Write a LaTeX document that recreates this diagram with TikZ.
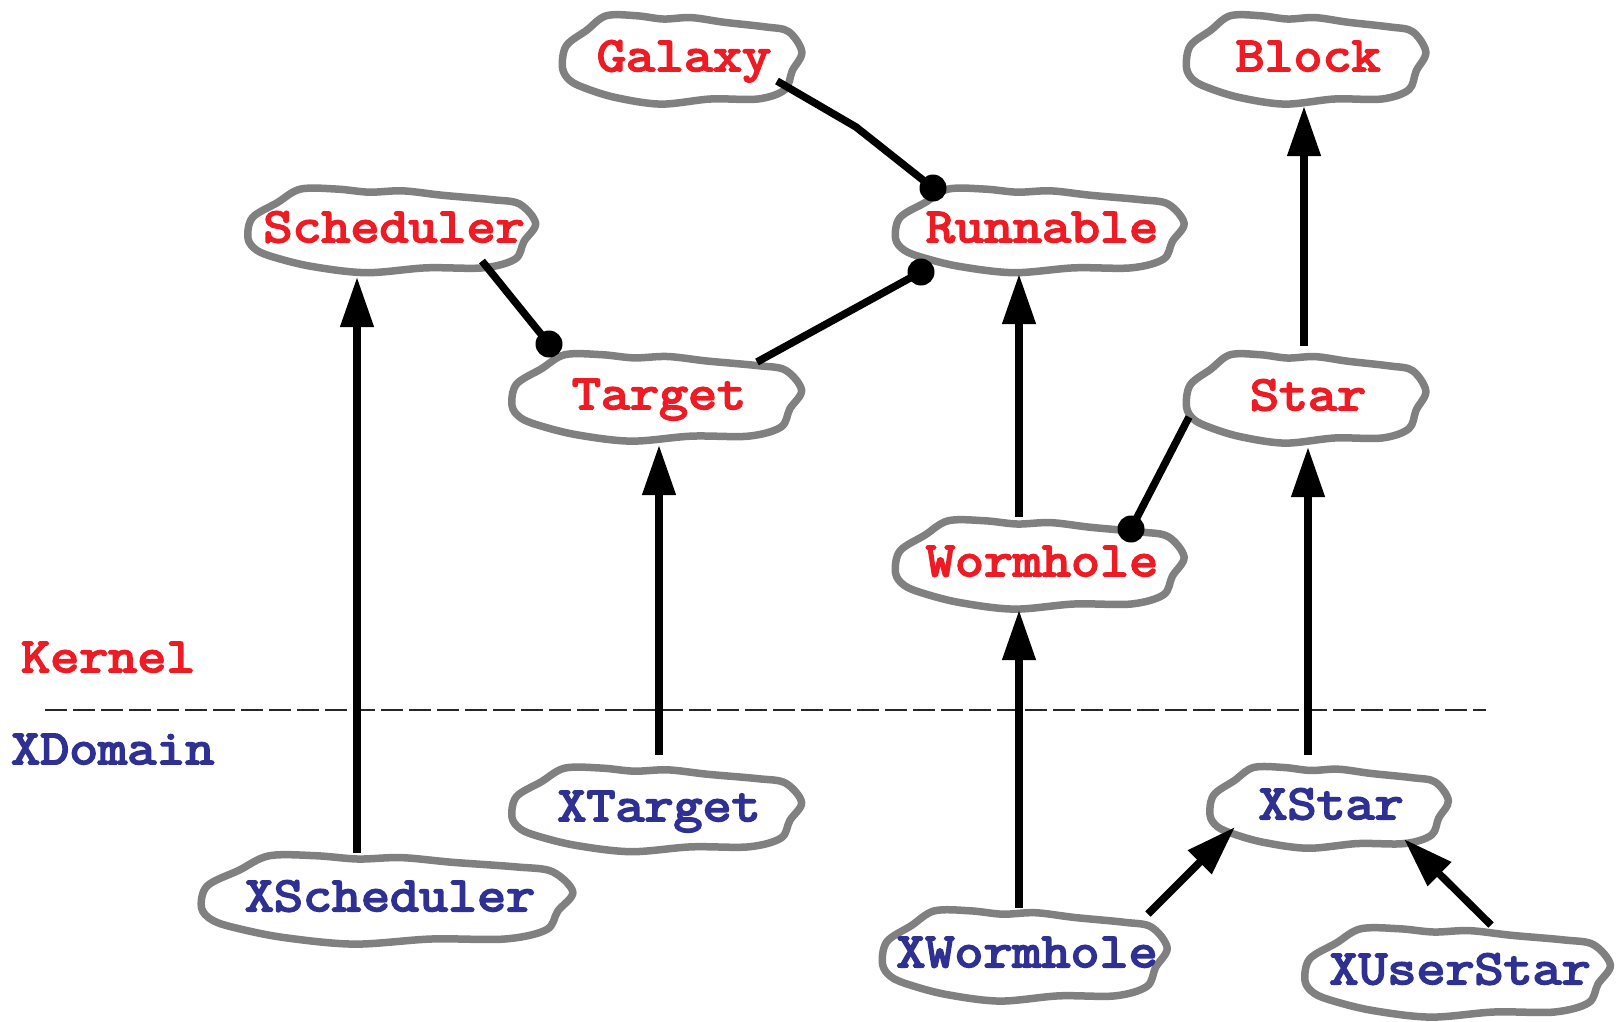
\documentclass[tikz,border=0pt]{standalone}
\usepackage{fontspec}
\setmonofont{Latin Modern Mono}[AutoFakeBold=4, FakeStretch=1.15]
\usetikzlibrary{arrows.meta,calc}
\definecolor{kred}{RGB}{237,28,36}
\definecolor{kblue}{RGB}{46,49,146}
\definecolor{cgray}{RGB}{128,128,128}
\tikzset{
  cloudtext/.style={font=\ttfamily\bfseries\fontsize{49pt}{52pt}\selectfont, inner sep=0pt, text height=27pt, text depth=3pt},
  cloudline/.style={draw=cgray, line width=7.5pt, fill=white, line join=round},
  conn/.style={line width=7.5pt, draw=black},
  isa/.style={conn, -{Triangle[length=50pt,width=32pt]}},
  ballend/.style={circle, fill=black, inner sep=0pt, minimum size=27pt},
  layertext/.style={font=\ttfamily\bfseries\fontsize{49pt}{52pt}\selectfont, inner sep=0pt, text height=27pt, text depth=3pt, anchor=west},
  divider/.style={line width=1.5pt, draw=black!85, dash pattern=on 22pt off 6pt}
}
\newcommand\cloudnode[7]{%
  \begin{scope}[shift={(#2,#3)}, xscale=#4/2, yscale=#5/2]
    \path[cloudline] plot[smooth cycle, tension=0.55] coordinates {
      (-1,0.19) (-0.97,-0.28) (-0.8,-0.62) (-0.64,-0.93) (-0.39,-0.93)
      (-0.17,-0.86) (0.06,-0.89) (0.33,-0.79) (0.67,-0.69) (0.86,-0.59)
      (0.97,-0.15) (0.89,0.26) (0.83,0.66) (0.61,0.86) (0.22,0.86)
      (-0.19,0.97) (-0.56,0.83) (-0.81,0.63) (-0.94,0.46)};
  \end{scope}
  \node[cloudtext, text=#6, minimum width=#4pt, minimum height=#5pt] (#1) at (#2,#3) {#7};
}
\begin{document}
\begin{tikzpicture}[x=1pt,y=-1pt]
\useasboundingbox[fill=white] (0,0) rectangle (1621,1021);

% layer labels and divider
\node[layertext, text=kred] (kernel) at (21,660) {Kernel};
\node[layertext, text=kblue] (xdomain) at (11,752) {XDomain};
\coordinate (divL) at (45,710);
\coordinate (divR) at (1486,710);
\draw[divider] (divL) -- (divR);

% clouds
\cloudnode{Galaxy}{684}{59}{243}{93}{kred}{Galaxy}
\cloudnode{Block}{1308}{59}{243}{93}{kred}{Block}
\cloudnode{Scheduler}{394}{230}{292}{88}{kred}{Scheduler}
\cloudnode{Runnable}{1042}{230}{293}{88}{kred}{Runnable}
\cloudnode{Target}{659}{397}{294}{91}{kred}{Target}
\cloudnode{Star}{1308}{398}{243}{93}{kred}{Star}
\cloudnode{Wormhole}{1042}{564}{293}{93}{kred}{Wormhole}
\cloudnode{XTarget}{659}{809}{294}{88}{kblue}{XTarget}
\cloudnode{XStar}{1331}{807}{242}{85}{kblue}{XStar}
\cloudnode{XScheduler}{390}{899}{377}{93}{kblue}{XScheduler}
\cloudnode{XWormhole}{1027}{955}{289}{95}{kblue}{XWormhole}
\cloudnode{XUserStar}{1460}{972}{310}{93}{kblue}{XUserStar}

% associations (ball ends)
\draw[conn] ($(Galaxy.center)+(93,22)$) -- ++(79,46) -- ($(Runnable.center)+(-109,-42)$) node[ballend]{};
\draw[conn] ($(Scheduler.center)+(88,31)$) -- ($(Target.center)+(-110,-53)$) node[ballend]{};
\draw[conn] ($(Target.center)+(98,-35)$) -- ($(Runnable.center)+(-121,42)$) node[ballend]{};
\draw[conn] ($(Star.center)+(-119,19)$) -- ($(Wormhole.center)+(89,-35)$) node[ballend]{};

% inheritance arrows
\draw[isa] ($(Wormhole.center)+(-23,-47)$) -- ($(Runnable.center)+(-23,44)$);
\draw[isa] ($(Star.center)+(-4,-52)$) -- ($(Block.center)+(-4,47)$);
\draw[isa] ($(XScheduler.center)+(-33,-46)$) -- ($(Scheduler.center)+(-37,47)$);
\draw[isa] ($(XTarget.center)+(0,-54)$) -- ($(Target.center)+(0,48)$);
\draw[isa] ($(XWormhole.center)+(-8,-47)$) -- ($(Wormhole.center)+(-23,46)$);
\draw[isa] ($(XStar.center)+(-23,-52)$) -- ($(Star.center)+(0,49)$);
\draw[isa] ($(XWormhole.center)+(121,-41)$) -- ($(XStar.center)+(-96,20)$);
\draw[isa] ($(XUserStar.center)+(31,-47)$) -- ($(XStar.center)+(73,32)$);
\end{tikzpicture}
\end{document}
